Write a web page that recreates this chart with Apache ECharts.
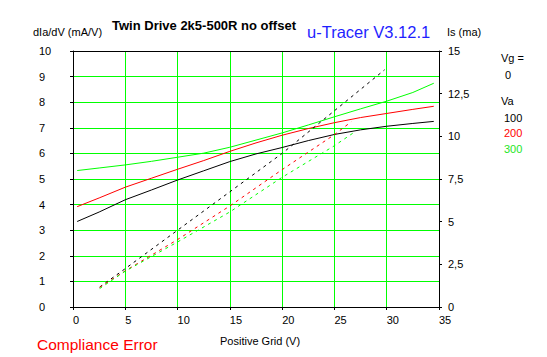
<!DOCTYPE html>
<html>
<head>
<meta charset="utf-8">
<script src="https://cdn.jsdelivr.net/npm/echarts@6/dist/echarts.min.js"></script>
<style>
html,body{margin:0;padding:0;background:#fff;}
#chart{width:547px;height:357px;}
</style>
</head>
<body>
<div id="chart"></div>
<script>
// Positive grid voltage (V) for the dIa/dV curves
const gridV = [0.4, 2.5, 5, 7.5, 10, 12.5, 15, 17.5, 20, 22.5, 25, 27.5, 30, 32.5, 34.5];
// dIa/dV (mA/V) at Va = 100, 200, 300
const gm100 = [3.34, 3.71, 4.19, 4.57, 4.96, 5.32, 5.68, 5.98, 6.23, 6.50, 6.74, 6.92, 7.06, 7.17, 7.25];
const gm200 = [3.92, 4.26, 4.68, 5.03, 5.38, 5.72, 6.08, 6.41, 6.71, 6.97, 7.20, 7.40, 7.56, 7.72, 7.84];
const gm300 = [5.33, 5.43, 5.55, 5.69, 5.85, 6.01, 6.24, 6.52, 6.80, 7.11, 7.43, 7.74, 8.04, 8.38, 8.74];

// Screen current Is (mA) vs grid voltage
const isV100 = [2.55, 5, 10, 15, 20, 25, 29.8];
const is100  = [1.17, 2.25, 4.5, 6.75, 9.0, 11.5, 13.9];
const isV200 = [2.55, 5, 10, 15, 20, 25, 26.6];
const is200  = [1.15, 2.12, 3.95, 5.92, 8.05, 10.1, 10.85];
const isV300 = [2.55, 5, 10, 15, 20, 25, 26.8];
const is300  = [1.08, 2.1, 3.81, 5.57, 7.6, 9.45, 10.2];

// Axis ticks
const xTicks = [0, 5, 10, 15, 20, 25, 30, 35];
const yLeftMax = 10, yRightMax = 15;

const pairs = (xs, ys) => xs.map((x, i) => [x, ys[i]]);
const SANS = "'Liberation Sans', Arial, sans-serif";

const chart = echarts.init(document.getElementById('chart'), null, {renderer: 'svg'});

function solid(name, xs, ys, color) {
  return {name, type: 'line', xAxisIndex: 0, yAxisIndex: 0, data: pairs(xs, ys),
    showSymbol: false, symbol: 'none', lineStyle: {color, width: 1}, itemStyle: {color}, z: 3};
}
function dashed(name, xs, ys, color) {
  return {name, type: 'line', xAxisIndex: 0, yAxisIndex: 1, data: pairs(xs, ys),
    showSymbol: false, symbol: 'none', lineStyle: {color, width: 1, type: [3, 4]}, itemStyle: {color}, z: 3};
}

const option = {
  animation: false,
  backgroundColor: '#ffffff',
  grid: {left: 73, right: 108, top: 51, bottom: 50, containLabel: false},
  xAxis: [{
    type: 'value', min: xTicks[0], max: xTicks[xTicks.length - 1], interval: 5, position: 'bottom',
    axisLine: {show: true, onZero: false, lineStyle: {color: '#000', width: 1}},
    axisTick: {show: true, length: 3, lineStyle: {color: '#000'}},
    axisLabel: {color: '#000', fontFamily: SANS, fontSize: 11, margin: 7, align: 'left'},
    splitLine: {show: true, showMinLine: false, showMaxLine: false, lineStyle: {color: '#00ff00', width: 1}}
  }, {
    type: 'value', min: xTicks[0], max: xTicks[xTicks.length - 1], position: 'top',
    axisLine: {show: true, onZero: false, lineStyle: {color: '#000', width: 1}},
    axisTick: {show: false}, axisLabel: {show: false}, splitLine: {show: false}
  }],
  yAxis: [{
    type: 'value', min: 0, max: yLeftMax, interval: 1, position: 'left',
    axisLine: {show: true, onZero: false, lineStyle: {color: '#000', width: 1}},
    axisTick: {show: true, length: 3, lineStyle: {color: '#000'}},
    axisLabel: {color: '#000', fontFamily: SANS, fontSize: 11, margin: 34, align: 'left', padding: [3, 0, 0, 0]},
    splitLine: {show: true, showMinLine: false, showMaxLine: false, lineStyle: {color: '#00ff00', width: 1}}
  }, {
    type: 'value', min: 0, max: yRightMax, interval: 2.5, position: 'right',
    axisLine: {show: true, onZero: false, lineStyle: {color: '#000', width: 1}},
    axisTick: {show: true, length: 3, lineStyle: {color: '#000'}},
    axisLabel: {color: '#000', fontFamily: SANS, fontSize: 11, margin: 9, align: 'left', padding: [3, 0, 0, 0],
      formatter: v => String(v).replace('.', ',')},
    splitLine: {show: false}
  }],
  series: [
    solid('100', gridV, gm100, '#000000'),
    solid('200', gridV, gm200, '#ff0000'),
    solid('300', gridV, gm300, '#00ff00'),
    dashed('Is 100', isV100, is100, '#000000'),
    dashed('Is 200', isV200, is200, '#ff0000'),
    dashed('Is 300', isV300, is300, '#00ff00')
  ],
  graphic: [
    {type: 'text', left: 33, top: 26, style: {text: 'dIa/dV (mA/V)', fill: '#000', font: '11px ' + SANS}},
    {type: 'text', left: 112, top: 19, style: {text: 'Twin Drive 2k5-500R no offset', fill: '#000', font: 'bold 13px ' + SANS}},
    {type: 'text', left: 307, top: 23, style: {text: 'u-Tracer V3.12.1', fill: '#1f1fff', font: '16.5px ' + SANS}},
    {type: 'text', left: 447, top: 26, style: {text: 'Is (ma)', fill: '#000', font: '11px ' + SANS}},
    {type: 'text', left: 501, top: 52, style: {text: 'Vg =', fill: '#000', font: '11px ' + SANS}},
    {type: 'text', left: 505, top: 69, style: {text: '0', fill: '#000', font: '11px ' + SANS}},
    {type: 'text', left: 501, top: 95, style: {text: 'Va', fill: '#000', font: '11px ' + SANS}},
    {type: 'text', left: 504, top: 112, style: {text: '100', fill: '#000', font: '11px ' + SANS}},
    {type: 'text', left: 504, top: 127, style: {text: '200', fill: '#ff0000', font: '11px ' + SANS}},
    {type: 'text', left: 504, top: 143, style: {text: '300', fill: '#1ee61e', font: '11px ' + SANS}},
    {type: 'text', left: 220, top: 335, style: {text: 'Positive Grid (V)', fill: '#000', font: '11px ' + SANS}},
    {type: 'text', left: 37, top: 336, style: {text: 'Compliance Error', fill: '#ff0000', font: '15.5px ' + SANS}}
  ]
};
chart.setOption(option);
</script>
</body>
</html>
